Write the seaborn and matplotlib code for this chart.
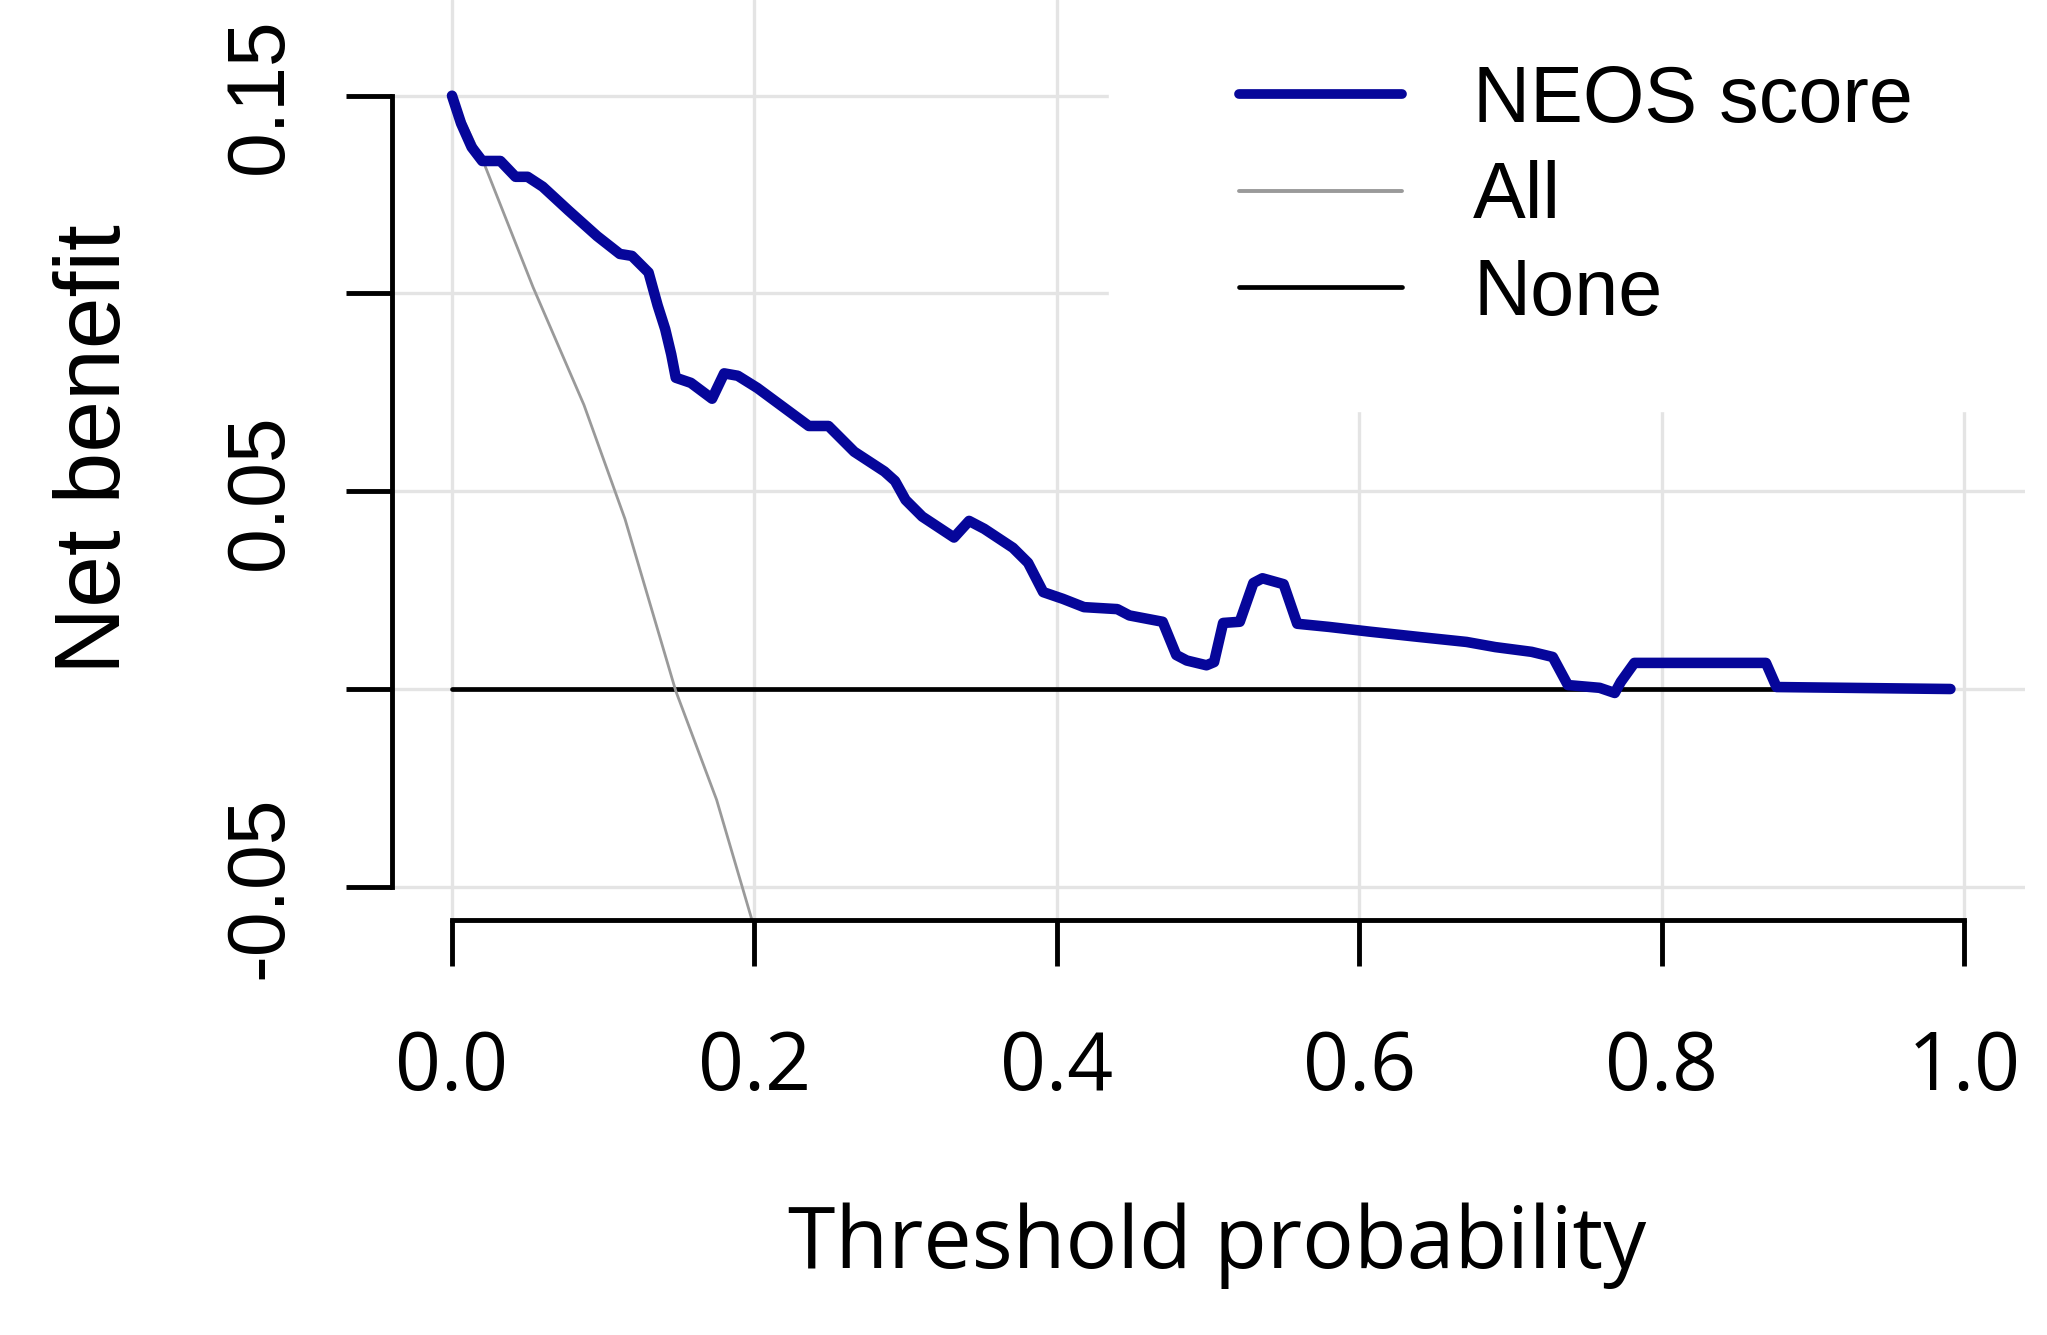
import matplotlib
matplotlib.use('Agg')
import matplotlib.pyplot as plt
import seaborn as sns
from matplotlib.lines import Line2D
from matplotlib.legend_handler import HandlerLine2D
from matplotlib.font_manager import FontProperties

# decision curve values
threshold = [
    0.000, 0.006, 0.013, 0.020, 0.032, 0.042, 0.050, 0.060, 0.077, 0.096,
    0.111, 0.119, 0.130, 0.136, 0.141, 0.145, 0.148, 0.158, 0.172, 0.180,
    0.189, 0.202, 0.219, 0.236, 0.249, 0.266, 0.286, 0.293, 0.300, 0.311,
    0.332, 0.342, 0.352, 0.371, 0.381, 0.391, 0.404, 0.418, 0.440, 0.448,
    0.470, 0.479, 0.486, 0.499, 0.504, 0.510, 0.521, 0.530, 0.536, 0.550,
    0.559, 0.580, 0.607, 0.641, 0.671, 0.690, 0.714, 0.728, 0.738, 0.759,
    0.769, 0.773, 0.782, 0.869, 0.876, 0.991]
neos_nb = [
    0.1500, 0.1430, 0.1370, 0.1335, 0.1335, 0.1295, 0.1295, 0.1270, 0.1210, 0.1145,
    0.1100, 0.1095, 0.1053, 0.0970, 0.0910, 0.0846, 0.0787, 0.0774, 0.0734, 0.0798,
    0.0792, 0.0761, 0.0713, 0.0665, 0.0665, 0.0600, 0.0550, 0.0526, 0.0478, 0.0436,
    0.0383, 0.0425, 0.0405, 0.0357, 0.0319, 0.0245, 0.0228, 0.0207, 0.0202, 0.0186,
    0.0170, 0.0086, 0.0072, 0.0060, 0.0068, 0.0167, 0.0170, 0.0268, 0.0280, 0.0265,
    0.0165, 0.0157, 0.0145, 0.0131, 0.0119, 0.0106, 0.0094, 0.0081, 0.0010, 0.0003,
    -0.0010, 0.0018, 0.0066, 0.0066, 0.0005, 0.0000]

all_threshold = [0.0, 0.0216, 0.0536, 0.0873, 0.1144, 0.148, 0.175, 0.2]
all_nb = [0.15, 0.1325, 0.1016, 0.0718, 0.043, -0.0005, -0.028, -0.0605]

none_threshold = [0.0, 0.991]
none_nb = [0.0, 0.0]

x_ticks = [0.0, 0.2, 0.4, 0.6, 0.8, 1.0]
x_tick_labels = ['0.0', '0.2', '0.4', '0.6', '0.8', '1.0']
y_ticks = [-0.05, 0.0, 0.05, 0.10, 0.15]
y_tick_labels = ['-0.05', '', '0.05', '', '0.15']

series_labels = ['NEOS score', 'All', 'None']

sns.set_style('white')
plt.rcParams['font.family'] = ['Liberation Sans', 'DejaVu Sans']
plt.rcParams['text.color'] = 'black'
plt.rcParams['axes.labelcolor'] = 'black'
plt.rcParams['xtick.color'] = 'black'
plt.rcParams['ytick.color'] = 'black'

blue = '#06069a'
grey = '#9a9a9a'

fig = plt.figure(figsize=(20.47, 13.35), dpi=100)
ax = fig.add_axes([0.19126, 0.31086, 0.79775, 0.68914])

sns.lineplot(x=none_threshold, y=none_nb, ax=ax, color='black', linewidth=3.4, zorder=2)
sns.lineplot(x=all_threshold, y=all_nb, ax=ax, color=grey, linewidth=2.0, zorder=2)
sns.lineplot(x=threshold, y=neos_nb, ax=ax, color=blue, linewidth=7.6, zorder=3,
             solid_capstyle='round', solid_joinstyle='round')

ax.set_xlim(-0.04, 1.04)
ax.set_ylim(-0.0584, 0.1742)

ax.set_xticks(x_ticks)
ax.set_xticklabels(x_tick_labels, fontfamily='Open Sans', fontsize=58, color='black')
ax.set_yticks(y_ticks)
ax.set_yticklabels(y_tick_labels, fontfamily='Liberation Sans', fontsize=58,
                   rotation=90, va='center', ha='right', color='black')

ax.set_axisbelow(True)
ax.grid(True, color='#e4e4e4', linewidth=2.4)

for side in ['top', 'right']:
    ax.spines[side].set_visible(False)
ax.spines['left'].set_bounds(-0.05, 0.15)
ax.spines['bottom'].set_bounds(0.0, 1.0)
for side in ['left', 'bottom']:
    ax.spines[side].set_linewidth(3.5)
    ax.spines[side].set_color('black')

ax.tick_params(axis='x', bottom=True, length=33, width=3.5, direction='out',
               pad=45, color='black')
ax.tick_params(axis='y', left=True, length=33, width=3.5, direction='out',
               pad=34, color='black')

ax.set_xlabel('Threshold probability', fontfamily='Open Sans', fontsize=62, color='black')
ax.xaxis.set_label_coords(0.5055, -0.378)
ax.xaxis.label.set_va('baseline')

ax.set_ylabel('Net benefit', fontfamily='Liberation Sans', fontsize=67, color='black')
ax.yaxis.set_label_coords(-0.1663, 0.512)
ax.yaxis.label.set_va('baseline')

handles = [
    Line2D([], [], color=blue, linewidth=7.0),
    Line2D([], [], color=grey, linewidth=2.8),
    Line2D([], [], color='black', linewidth=3.4),
]
leg = ax.legend(handles, series_labels, loc='lower left',
                bbox_to_anchor=(0.4394, 0.5533, 0.5606, 0.6), mode='expand',
                borderaxespad=0, frameon=True, fancybox=False, framealpha=1,
                facecolor='white', edgecolor='white', borderpad=1.0,
                handlelength=2.70, handletextpad=0.9, labelspacing=0.27,
                prop=FontProperties(family='Liberation Sans', size=57),
                handler_map={Line2D: HandlerLine2D(xpad=0.644)})
for txt in leg.get_texts():
    txt.set_color('black')

fig.savefig('out.png', dpi=100, facecolor='white')
